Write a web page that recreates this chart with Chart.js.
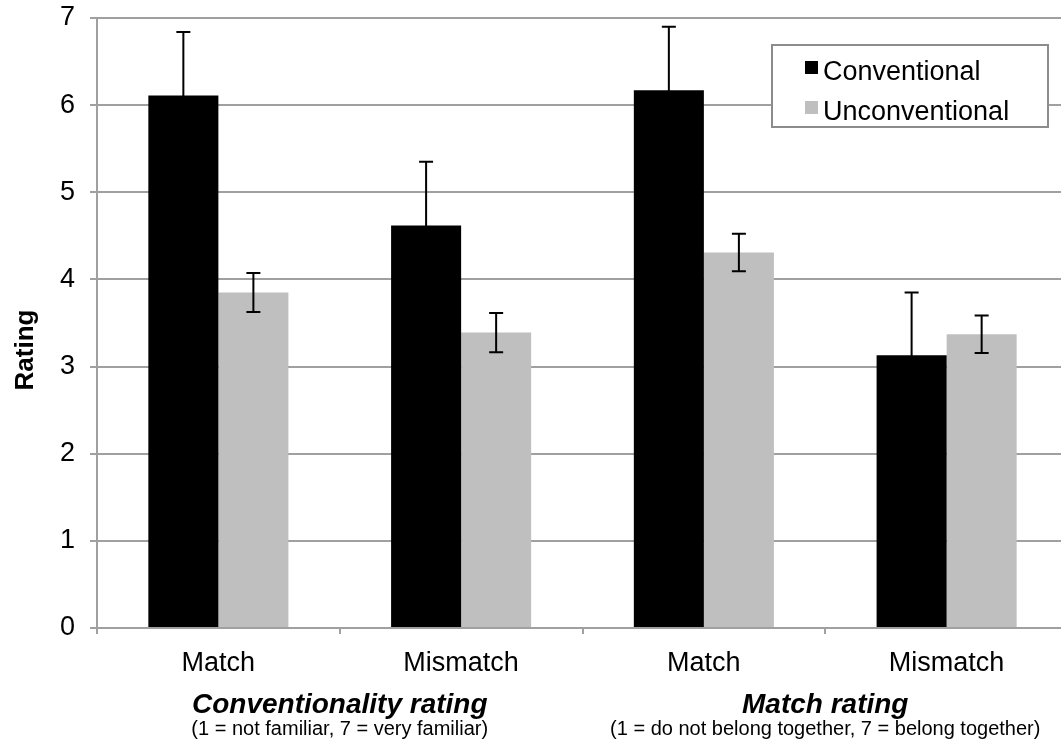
<!DOCTYPE html>
<html>
<head>
<meta charset="utf-8">
<script src="https://cdn.jsdelivr.net/npm/chart.js@4"></script>
<style>
  html, body { margin: 0; padding: 0; background: #fff; overflow: hidden; }
  #wrap { width: 1068px; height: 745px; }
</style>
</head>
<body>
<div id="wrap"><canvas id="c" width="1068" height="745"></canvas></div>
<script>
// ---- data ----
const categories = ['Match', 'Mismatch', 'Match', 'Mismatch'];
const seriesNames = ['Conventional', 'Unconventional'];
const conventional = [6.11, 4.62, 6.17, 3.13];
const conventionalErr = [0.73, 0.73, 0.73, 0.72];
const unconventional = [3.85, 3.39, 4.31, 3.37];
const unconventionalErr = [0.225, 0.225, 0.215, 0.215];
const yTicks = [0, 1, 2, 3, 4, 5, 6, 7];
const groupTitles = ['Conventionality rating', 'Match rating'];
const groupNotes = ['(1 = not familiar, 7 = very familiar)', '(1 = do not belong together, 7 = belong together)'];
const yTitle = 'Rating';

const FONT = '"Liberation Sans", Arial, Helvetica, sans-serif';
const GRID = '#a0a0a0';

const errorBars = {
  id: 'errorBars',
  afterDatasetsDraw(chart) {
    const ctx = chart.ctx;
    const y = chart.scales.y;
    const errs = [conventionalErr, unconventionalErr];
    ctx.save();
    ctx.strokeStyle = '#000';
    ctx.lineWidth = 2;
    chart.data.datasets.forEach((ds, di) => {
      const meta = chart.getDatasetMeta(di);
      meta.data.forEach((bar, i) => {
        const v = ds.data[i], e = errs[di][i];
        const x = bar.x;
        const yHi = y.getPixelForValue(v + e);
        const yLo = y.getPixelForValue(v - e);
        ctx.beginPath();
        ctx.moveTo(x, yHi); ctx.lineTo(x, yLo);
        ctx.moveTo(x - 7, yHi); ctx.lineTo(x + 7, yHi);
        ctx.moveTo(x - 7, yLo); ctx.lineTo(x + 7, yLo);
        ctx.stroke();
      });
    });
    ctx.restore();
  }
};

const extras = {
  id: 'extras',
  afterDraw(chart) {
    const ctx = chart.ctx;
    const xs = chart.scales.x;
    ctx.save();
    // group labels
    ctx.fillStyle = '#000';
    ctx.textAlign = 'center';
    ctx.textBaseline = 'alphabetic';
    for (let g = 0; g < groupTitles.length; g++) {
      const cx = (xs.getPixelForValue(2 * g) + xs.getPixelForValue(2 * g + 1)) / 2;
      ctx.font = 'italic bold 28px ' + FONT;
      ctx.fillText(groupTitles[g], cx, 713);
      ctx.font = '20px ' + FONT;
      ctx.fillText(groupNotes[g], cx, 735);
    }
    // legend box
    const bx = 772, by = 45, bw = 276, bh = 82;
    ctx.fillStyle = '#fff';
    ctx.fillRect(bx, by, bw, bh);
    ctx.strokeStyle = '#8c8c8c';
    ctx.lineWidth = 2;
    ctx.strokeRect(bx, by, bw, bh);
    const rows = [80, 120];
    chart.data.datasets.forEach((ds, i) => {
      ctx.fillStyle = ds.backgroundColor;
      ctx.fillRect(805, rows[i] - 19, 13, 13);
      ctx.fillStyle = '#000';
      ctx.font = '27px ' + FONT;
      ctx.textAlign = 'left';
      ctx.fillText(ds.label, 823, rows[i]);
    });
    // y title
    ctx.save();
    ctx.translate(33, 350);
    ctx.rotate(-Math.PI / 2);
    ctx.font = 'bold 26px ' + FONT;
    ctx.textAlign = 'center';
    ctx.fillStyle = '#000';
    ctx.fillText(yTitle, 0, 0);
    ctx.restore();
    ctx.restore();
  }
};

new Chart(document.getElementById('c'), {
  type: 'bar',
  data: {
    labels: categories,
    datasets: [
      { label: seriesNames[0], data: conventional, backgroundColor: '#000000', borderWidth: 0 },
      { label: seriesNames[1], data: unconventional, backgroundColor: '#bfbfbf', borderWidth: 0 }
    ]
  },
  options: {
    responsive: false,
    animation: false,
    devicePixelRatio: 1,
    layout: { padding: { top: 18, right: 0, left: 0, bottom: 0 } },
    datasets: { bar: { categoryPercentage: 0.577, barPercentage: 1.0 } },
    plugins: { legend: { display: false }, tooltip: { enabled: false } },
    scales: {
      x: {
        grid: { drawOnChartArea: false, drawTicks: true, tickLength: 6, color: GRID, lineWidth: 2, offset: true },
        border: { color: GRID, width: 2 },
        ticks: { color: '#000', font: { family: FONT, size: 27 }, padding: 13, maxRotation: 0 },
        afterFit(s) { s.height = 745 - 628; s.paddingLeft = 0; s.paddingRight = 0; }
      },
      y: {
        min: 0, max: 7,
        afterBuildTicks(s) { s.ticks = yTicks.map(v => ({ value: v })); },
        grid: { color: GRID, lineWidth: 2, drawTicks: true, tickLength: 7 },
        border: { color: GRID, width: 2 },
        ticks: { color: '#000', font: { family: FONT, size: 27 }, padding: 15 },
        afterFit(s) { s.width = 97; s.paddingTop = 0; s.paddingBottom = 0; }
      }
    }
  },
  plugins: [errorBars, extras]
});
</script>
</body>
</html>
